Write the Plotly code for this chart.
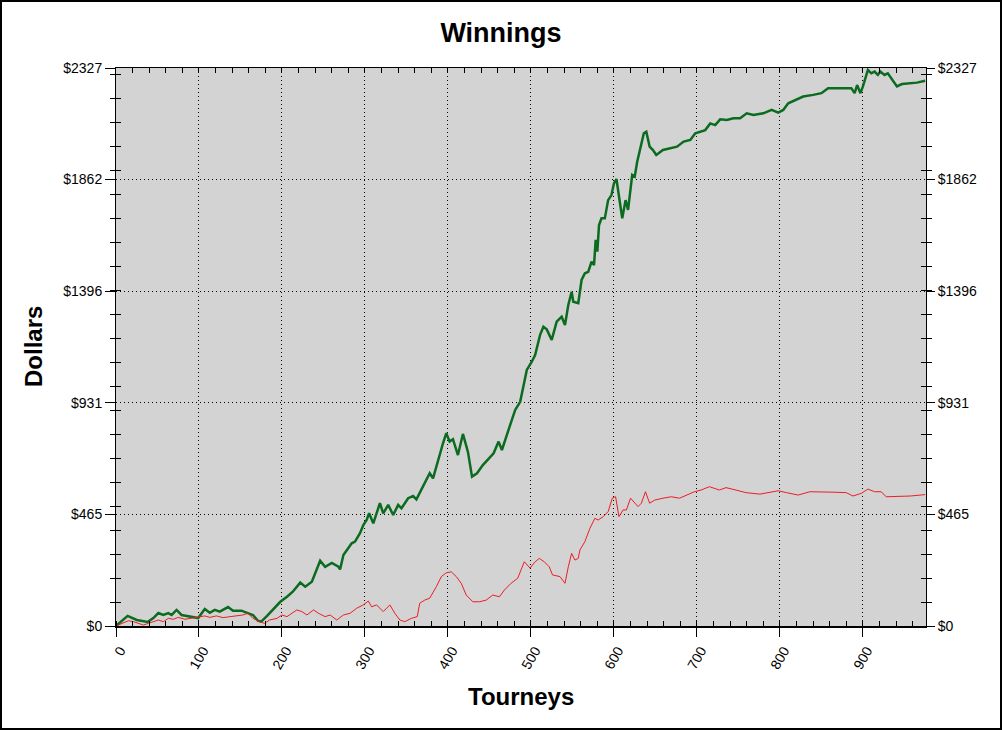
import plotly.graph_objects as go

# ---- data ----
green_tourneys = [0, 14, 25, 32, 38, 45, 51, 57, 63, 67, 73, 79, 89, 99, 107, 113, 119, 125, 135, 141,
                  151, 159, 165, 171, 175, 182, 189, 198, 206, 213, 222, 228, 236, 246, 252, 260, 268, 270,
                  274, 280, 284, 288, 294, 298, 302, 305, 310, 318, 322, 328, 334, 340, 344, 352, 358, 362,
                  370, 378, 382, 388, 394, 398, 402, 406, 412, 418, 424, 429, 435, 442, 451, 455, 461, 465,
                  471, 477, 481, 487, 493, 495, 501, 505, 511, 515, 519, 525, 531, 537, 541, 545, 549, 551,
                  557, 561, 565, 569, 573, 576, 578, 580, 582, 585, 589, 593, 597, 600, 603, 607, 610, 614,
                  617, 622, 625, 628, 632, 636, 639, 643, 647, 651, 659, 667, 676, 684, 692, 698, 704, 710,
                  716, 722, 728, 736, 744, 752, 760, 768, 780, 790, 798, 804, 810, 820, 828, 840, 850, 858,
                  868, 878, 886, 890, 893, 897, 900, 906, 910, 914, 918, 921, 926, 930, 936, 941, 947, 955,
                  965, 975]
green_dollars = [0, 42, 25, 22, 17, 33, 54, 46, 54, 46, 67, 46, 39, 33, 71, 55, 67, 60, 79, 64,
                 64, 54, 46, 22, 18, 42, 67, 101, 122, 143, 181, 164, 185, 272, 247, 263, 247, 236,
                 296, 324, 345, 352, 387, 421, 442, 470, 428, 512, 470, 505, 463, 505, 491, 533, 542, 528,
                 581, 637, 616, 692, 762, 804, 769, 779, 713, 801, 727, 623, 637, 671, 706, 720, 769, 734,
                 797, 859, 901, 935, 1040, 1068, 1102, 1130, 1214, 1248, 1237, 1193, 1269, 1290, 1255, 1339, 1394, 1352,
                 1346, 1443, 1471, 1477, 1519, 1505, 1610, 1561, 1672, 1700, 1700, 1776, 1797, 1846, 1864, 1776, 1700, 1776,
                 1735, 1881, 1874, 1936, 1999, 2055, 2061, 1999, 1985, 1964, 1985, 1992, 1999, 2020, 2027, 2055, 2061, 2068,
                 2096, 2089, 2113, 2110, 2117, 2117, 2138, 2131, 2138, 2152, 2141, 2152, 2180, 2194, 2208, 2215, 2222, 2243,
                 2243, 2243, 2243, 2222, 2256, 2222, 2250, 2319, 2305, 2312, 2298, 2312, 2298, 2305, 2277, 2250, 2260, 2263,
                 2266, 2274]

red_tourneys = [0, 9, 15, 21, 29, 33, 39, 45, 51, 57, 63, 69, 75, 83, 91, 99, 107, 113, 121, 129,
                137, 145, 153, 159, 165, 173, 179, 185, 194, 200, 206, 212, 218, 224, 230, 238, 244, 252,
                258, 266, 274, 282, 290, 298, 304, 308, 314, 322, 330, 336, 342, 348, 356, 363, 366, 372,
                378, 386, 392, 398, 404, 410, 416, 422, 430, 438, 446, 454, 462, 468, 476, 484, 492, 499,
                504, 510, 516, 522, 526, 535, 541, 545, 549, 553, 557, 559, 565, 571, 577, 581, 587, 593,
                598, 602, 606, 611, 615, 620, 625, 629, 633, 638, 643, 649, 659, 669, 679, 687, 697, 705,
                715, 727, 735, 747, 759, 776, 788, 798, 808, 822, 836, 848, 864, 880, 888, 898, 906, 914,
                922, 928, 936, 942, 957, 975]
red_dollars = [0, 14, 22, 18, 8, 4, 11, 18, 25, 18, 32, 28, 36, 28, 32, 39, 42, 36, 42, 35,
               39, 42, 46, 53, 32, 18, 11, 25, 32, 46, 39, 53, 67, 60, 46, 67, 53, 39,
               46, 25, 46, 53, 74, 88, 104, 80, 88, 60, 88, 53, 25, 18, 32, 39, 95, 108,
               116, 164, 206, 222, 226, 206, 178, 129, 101, 101, 108, 129, 122, 150, 178, 199, 268, 241,
               264, 282, 268, 247, 213, 206, 178, 247, 303, 275, 282, 317, 352, 407, 449, 442, 456, 477,
               533, 539, 456, 484, 484, 533, 512, 498, 512, 560, 512, 525, 533, 539, 533, 546, 560, 567,
               581, 567, 577, 567, 556, 550, 556, 564, 556, 546, 560, 560, 558, 556, 542, 553, 571, 560,
               560, 539, 539, 539, 542, 548]

y_tick_values = [0, 465, 931, 1396, 1862, 2327]
y_tick_labels = ["$0", "$465", "$931", "$1396", "$1862", "$2327"]
x_tick_values = [0, 100, 200, 300, 400, 500, 600, 700, 800, 900]
x_tick_labels = [str(v) for v in x_tick_values]

X_MAX = 976
Y_MAX = 2327
FONT = "Arial, Liberation Sans, sans-serif"
DOT = "1px,3px"

fig = go.Figure()
fig.add_trace(go.Scatter(x=green_tourneys, y=green_dollars, mode="lines",
                         line=dict(color="#0b6b1f", width=2.5), showlegend=False, hoverinfo="skip"))
fig.add_trace(go.Scatter(x=red_tourneys, y=red_dollars, mode="lines",
                         line=dict(color="#ee1c24", width=1), showlegend=False, hoverinfo="skip"))

minor_y = list(range(0, Y_MAX + 1, 100))
minor_x = list(range(0, X_MAX + 1, 20))

fig.update_layout(
    width=1002, height=730,
    margin=dict(l=116, r=76, t=68, b=104),
    paper_bgcolor="white",
    plot_bgcolor="#d3d3d3",
    font=dict(family=FONT, color="black", size=14),
    title=dict(text="<b>Winnings</b>", x=0.5, xref="container", y=1 - 33 / 730, yref="container",
               xanchor="center", yanchor="middle", font=dict(size=27, family=FONT, color="black")),
    xaxis=dict(range=[0, X_MAX], tickmode="array", tickvals=x_tick_values, ticktext=x_tick_labels,
               ticks="outside", ticklen=9, tickwidth=1, tickcolor="black", tickangle=-60,
               ticklabelshift=4,
               tickfont=dict(size=14, family=FONT),
               showline=True, linecolor="black", linewidth=2, mirror=False,
               showgrid=True, gridcolor="black", gridwidth=1, griddash=DOT, zeroline=False,
               minor=dict(ticks="inside", tickmode="array", tickvals=minor_x, ticklen=5,
                          tickcolor="black", showgrid=False)),
    xaxis2=dict(range=[0, X_MAX], overlaying="x", side="top", anchor="y",
                tickmode="array", tickvals=minor_x, ticks="inside", ticklen=5, tickcolor="black",
                showticklabels=False, showline=True, linecolor="black", linewidth=1,
                showgrid=False, zeroline=False),
    yaxis=dict(range=[0, Y_MAX], tickmode="array", tickvals=y_tick_values, ticktext=y_tick_labels,
               ticks="outside", ticklen=10, tickcolor="black", tickfont=dict(size=14, family=FONT),
               showline=True, linecolor="black", linewidth=1,
               showgrid=True, gridcolor="black", gridwidth=1, griddash=DOT, zeroline=False,
               minor=dict(ticks="inside", tickmode="array", tickvals=minor_y, ticklen=5,
                          tickcolor="black", showgrid=False)),
    yaxis2=dict(range=[0, Y_MAX], overlaying="y", side="right", anchor="x",
                tickmode="array", tickvals=y_tick_values, ticktext=y_tick_labels,
                ticks="outside", ticklen=8, tickcolor="black", tickfont=dict(size=14, family=FONT),
                showline=True, linecolor="black", linewidth=1, showgrid=False, zeroline=False,
                minor=dict(ticks="inside", tickmode="array", tickvals=minor_y, ticklen=5,
                           tickcolor="black", showgrid=False)),
    yaxis3=dict(range=[0, Y_MAX], overlaying="y", side="left", anchor="x",
                tickmode="array", tickvals=minor_y, ticks="outside", ticklen=5, tickcolor="black",
                showticklabels=False, showline=False, showgrid=False, zeroline=False),
    yaxis4=dict(range=[0, Y_MAX], overlaying="y", side="right", anchor="x",
                tickmode="array", tickvals=minor_y, ticks="outside", ticklen=5, tickcolor="black",
                showticklabels=False, showline=False, showgrid=False, zeroline=False),
)

# invisible traces to activate the overlay axes
fig.add_trace(go.Scatter(x=[None], y=[None], xaxis="x2", yaxis="y", showlegend=False, hoverinfo="skip"))
fig.add_trace(go.Scatter(x=[None], y=[None], xaxis="x", yaxis="y2", showlegend=False, hoverinfo="skip"))
fig.add_trace(go.Scatter(x=[None], y=[None], xaxis="x", yaxis="y3", showlegend=False, hoverinfo="skip"))
fig.add_trace(go.Scatter(x=[None], y=[None], xaxis="x", yaxis="y4", showlegend=False, hoverinfo="skip"))

PW, PH = 810.0, 558.0
fig.add_annotation(text="<b>Dollars</b>", xref="paper", yref="paper",
                   x=(33 - 116) / PW, y=0.5, textangle=-90, showarrow=False,
                   xanchor="center", yanchor="middle", font=dict(size=24, family=FONT, color="black"))
fig.add_annotation(text="<b>Tourneys</b>", xref="paper", yref="paper",
                   x=0.5, y=(626 - 696) / PH, showarrow=False,
                   xanchor="center", yanchor="middle", font=dict(size=24, family=FONT, color="black"))

# outer frame around the whole picture
fig.add_shape(type="rect", xref="paper", yref="paper", layer="above",
              x0=(1 - 116) / PW, x1=(1001 - 116) / PW, y0=(626 - 729) / PH, y1=(626 - 1) / PH,
              line=dict(color="black", width=2), fillcolor="rgba(0,0,0,0)")

fig.write_html("out.html", config={"displayModeBar": False},
               post_script="document.body.style.margin='0px';")
